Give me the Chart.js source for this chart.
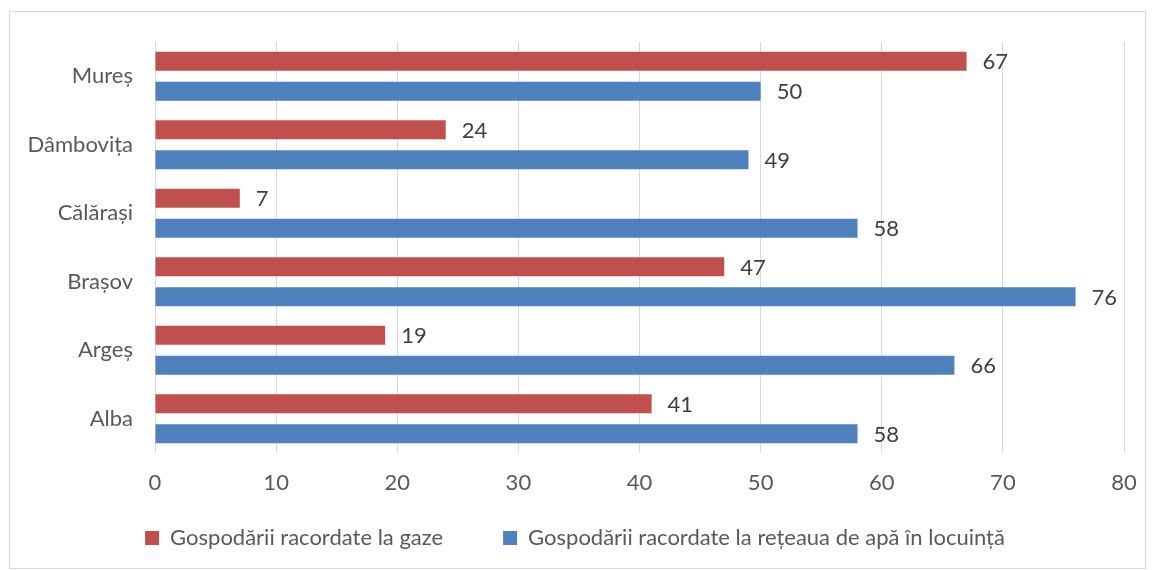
<!DOCTYPE html>
<html>
<head>
<meta charset="utf-8">
<script src="https://cdn.jsdelivr.net/npm/chart.js@4"></script>
<style>
  html, body { margin: 0; padding: 0; background: #fff; }
  #wrap { position: relative; width: 1153px; height: 570px; }
  #frame { position: absolute; left: 9px; top: 11px; width: 1135px; height: 556px; border: 1px solid #d9d9d9; }
  canvas { position: absolute; left: 0; top: 0; }
</style>
</head>
<body>
<div id="wrap">
  <div id="frame"></div>
  <canvas id="c" width="1153" height="570"></canvas>
</div>
<script>
const judete = ['Mureș', 'Dâmbovița', 'Călărași', 'Brașov', 'Argeș', 'Alba'];
const gaze = [67, 24, 7, 47, 19, 41];
const apa = [50, 49, 58, 76, 66, 58];
const xTicks = [0, 10, 20, 30, 40, 50, 60, 70, 80];

const FONT = 'Lato, "Open Sans", sans-serif';
const FS = 22;

// etichete cu valori la capatul barelor
const valueLabels = {
  id: 'valueLabels',
  afterDatasetsDraw(chart) {
    const ctx = chart.ctx;
    ctx.save();
    ctx.font = FS + 'px ' + FONT;
    ctx.fillStyle = '#404040';
    ctx.textAlign = 'left';
    ctx.textBaseline = 'middle';
    chart.data.datasets.forEach((ds, i) => {
      chart.getDatasetMeta(i).data.forEach((bar, j) => {
        ctx.fillText(ds.data[j], bar.x + 16, bar.y + 1);
      });
    });
    ctx.restore();
  }
};

new Chart(document.getElementById('c').getContext('2d'), {
  type: 'bar',
  data: {
    labels: judete,
    datasets: [
      { label: 'Gospodării racordate la gaze', data: gaze, backgroundColor: '#C0504D' },
      { label: 'Gospodării racordate la rețeaua de apă în locuință', data: apa, backgroundColor: '#4F81BD' }
    ]
  },
  options: {
    indexAxis: 'y',
    responsive: false,
    animation: false,
    categoryPercentage: 0.876,
    barPercentage: 0.63,
    layout: { padding: { left: 26, top: 42, right: 29, bottom: 11 } },
    scales: {
      x: {
        min: 0, max: 80,
        afterBuildTicks(scale) { scale.ticks = xTicks.map(v => ({ value: v })); },
        afterFit(scale) { scale.height = 14; },
        grid: { color: '#d9d9d9', drawTicks: false },
        border: { display: false },
        // mirror + padding negativ: etichetele sub axa, fara sa ocupe loc in layout
        ticks: { mirror: true, padding: -43, color: '#595959', font: { family: FONT, size: FS } }
      },
      y: {
        afterFit(scale) { scale.width = 129; },
        grid: { display: false, drawTicks: false },
        border: { display: false },
        ticks: { padding: 22, color: '#595959', font: { family: FONT, size: FS } }
      }
    },
    plugins: {
      legend: {
        position: 'bottom',
        labels: {
          boxWidth: 14, boxHeight: 14, padding: 60,
          color: '#595959', font: { family: FONT, size: FS }
        }
      },
      tooltip: { enabled: false }
    }
  },
  plugins: [valueLabels]
});
</script>
</body>
</html>
